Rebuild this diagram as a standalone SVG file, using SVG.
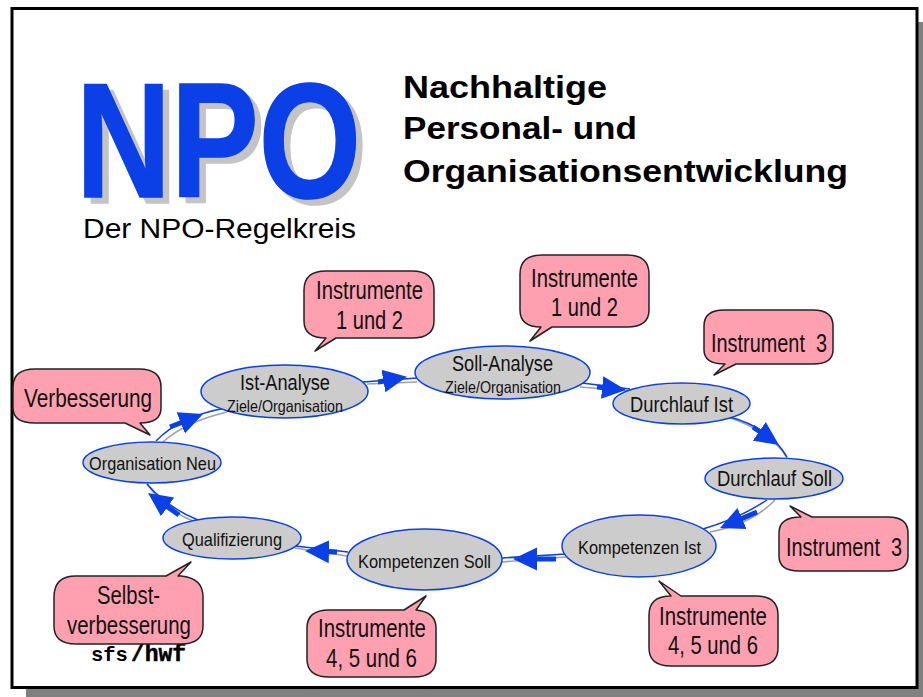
<svg xmlns="http://www.w3.org/2000/svg" width="923" height="697" viewBox="0 0 923 697">
<style>
text{font-family:"Liberation Sans",Arial,sans-serif;fill:#111;}
.t{font-size:26px}
.n{font-size:19px}
.m{font-size:22px}
.s{font-size:16.500px}
.h{font-size:32px;font-weight:bold;fill:#000}
.b{fill:#ffa0b0;stroke:#222;stroke-width:1.5;stroke-linejoin:round}
.e{fill:#cccccc;stroke:#0a40e6;stroke-width:1.5}
.g{fill:none;stroke:#a0a0a0;stroke-width:1.5}
.l{fill:none;stroke:#0a40e6;stroke-width:1.5}
.a{fill:none;stroke:#0a40e6;stroke-width:5;marker-end:url(#head)}
</style>
<defs>
<marker id="head" viewBox="0 0 20 20" refX="5" refY="10" markerUnits="userSpaceOnUse" markerWidth="24" markerHeight="24" orient="auto"><path d="M0 0.500L20 10L0 19.500z" fill="#0a40e6"/></marker>
</defs>
<rect x="0" y="0" width="923" height="697" fill="#fff"/>
<rect x="26" y="22" width="897" height="675" fill="#808080"/>
<rect x="12" y="8.500" width="905" height="679" fill="#fff" stroke="#000" stroke-width="3"/>
<g id="title">
<text x="82.500" y="203" font-size="163" font-weight="bold" style="fill:#c4c4c4;stroke:#c4c4c4;stroke-width:1.500" textLength="285" lengthAdjust="spacingAndGlyphs">NPO</text>
<text x="76" y="196.500" font-size="163" font-weight="bold" style="fill:#0a40e6;stroke:#0a40e6;stroke-width:1.500" textLength="285" lengthAdjust="spacingAndGlyphs">NPO</text>
<text x="83" y="238" font-size="28" style="fill:#000" textLength="273" lengthAdjust="spacingAndGlyphs">Der NPO-Regelkreis</text>
<text class="h" x="403" y="98" textLength="204" lengthAdjust="spacingAndGlyphs">Nachhaltige</text>
<text class="h" x="403" y="139" textLength="234" lengthAdjust="spacingAndGlyphs">Personal- und</text>
<text class="h" x="403" y="182" textLength="445" lengthAdjust="spacingAndGlyphs">Organisationsentwicklung</text>
<text x="91" y="661" style="font-family:'Liberation Mono',monospace;font-weight:bold;fill:#000" font-size="20.500">sfs<tspan dx="3" font-size="23" stroke="#000" stroke-width="0.500">/hwf</tspan></text>
</g>
<g id="connectors">
<path class="g" d="M163 442Q185 422 227 412"/><path class="l" d="M156 441Q180 416 226 408"/><path class="a" d="M170 427L186.300 420.600"/>
<path class="g" d="M367 384L417 382"/><path class="l" d="M363 382L417 378"/><path class="a" d="M378 382L389.300 380"/>
<path class="g" d="M580 387L630 391"/><path class="l" d="M582 383L630 389"/><path class="a" d="M597 387L608.100 388.100"/>
<path class="g" d="M730 418Q772 432 787 458"/><path class="l" d="M730 417Q770 428 787 457"/><path class="a" d="M753 427L764.200 434.800"/>
<path class="g" d="M775 500Q752 524 710 532"/><path class="l" d="M767 500Q740 518 703 529"/><path class="a" d="M757 512L736.500 520.900"/>
<path class="g" d="M566 557L502 562"/><path class="l" d="M566 554L502 558"/><path class="a" d="M556 559L531 559"/>
<path class="g" d="M347 556L295 548"/><path class="l" d="M348 552L295 546"/><path class="a" d="M337 552L323 551.600"/>
<path class="g" d="M193 521Q165 510 147 484"/><path class="l" d="M198 520Q168 508 147 484"/><path class="a" d="M179 515L162.700 503.400"/>
</g>
<g id="node-ist-analyse"><ellipse class="e" cx="284.500" cy="391.500" rx="83.500" ry="26.500"/><text class="m" x="240" y="390" textLength="90" lengthAdjust="spacingAndGlyphs">Ist-Analyse</text><text class="s" x="227" y="412" textLength="116" lengthAdjust="spacingAndGlyphs">Ziele/Organisation</text></g>
<g id="node-soll-analyse"><ellipse class="e" cx="502.500" cy="372.500" rx="87.500" ry="26.500"/><text class="m" x="452" y="371" textLength="101" lengthAdjust="spacingAndGlyphs">Soll-Analyse</text><text class="s" x="445" y="393" textLength="116" lengthAdjust="spacingAndGlyphs">Ziele/Organisation</text></g>
<g id="node-durchlauf-ist"><ellipse class="e" cx="681.500" cy="403.500" rx="68.500" ry="20.500"/><text class="m" x="630" y="412" textLength="103" lengthAdjust="spacingAndGlyphs">Durchlauf Ist</text></g>
<g id="node-durchlauf-soll"><ellipse class="e" cx="774" cy="478.500" rx="69" ry="20.500"/><text class="m" x="717" y="486" textLength="115" lengthAdjust="spacingAndGlyphs">Durchlauf Soll</text></g>
<g id="node-kompetenzen-ist"><ellipse class="e" cx="639" cy="546" rx="77" ry="31"/><text class="n" x="578" y="554" textLength="123" lengthAdjust="spacingAndGlyphs">Kompetenzen Ist</text></g>
<g id="node-kompetenzen-soll"><ellipse class="e" cx="424.500" cy="559.500" rx="77.500" ry="30.500"/><text class="n" x="358" y="568" textLength="133" lengthAdjust="spacingAndGlyphs">Kompetenzen Soll</text></g>
<g id="node-qualifizierung"><ellipse class="e" cx="232" cy="538" rx="69" ry="21"/><text class="n" x="182" y="546" textLength="100" lengthAdjust="spacingAndGlyphs">Qualifizierung</text></g>
<g id="node-organisation-neu"><ellipse class="e" cx="152" cy="462.500" rx="69" ry="20.500"/><text class="n" x="89" y="470" textLength="127" lengthAdjust="spacingAndGlyphs">Organisation Neu</text></g>
<g id="note-verbesserung"><path class="b" d="M35 369H139Q161 369 161 387V408Q161 423 140 423L150 435L125 423H35Q13 423 13 408V387Q13 369 35 369Z"/><text class="t" x="24" y="407" textLength="128" lengthAdjust="spacingAndGlyphs">Verbesserung</text></g>
<g id="note-selbst"><path class="b" d="M76 576H166L191 562L178 576H181Q203 578 203 597V626Q203 644 181 644H76Q54 644 54 626V597Q54 576 76 576Z"/><text class="t" x="97" y="604" textLength="63" lengthAdjust="spacingAndGlyphs">Selbst-</text><text class="t" x="67" y="634" textLength="124" lengthAdjust="spacingAndGlyphs">verbesserung</text></g>
<g id="note-ist-1"><path class="b" d="M326 271H412Q434 271 434 290V321Q434 338 412 338H336L315 351L326 338Q304 338 304 321V290Q304 271 326 271Z"/><text class="t" x="316" y="299" textLength="107" lengthAdjust="spacingAndGlyphs">Instrumente</text><text class="t" x="336" y="329" textLength="67" lengthAdjust="spacingAndGlyphs">1 und 2</text></g>
<g id="note-soll-1"><path class="b" d="M542 255H627Q649 255 649 274V310Q649 327 627 327H552L530 341L541 327Q520 327 520 310V274Q520 255 542 255Z"/><text class="t" x="531" y="287" textLength="107" lengthAdjust="spacingAndGlyphs">Instrumente</text><text class="t" x="551" y="316" textLength="67" lengthAdjust="spacingAndGlyphs">1 und 2</text></g>
<g id="note-durchlauf-ist"><path class="b" d="M724 310H813Q833 310 833 326V350Q833 364 813 364H736L714 375L725 364Q704 364 704 350V326Q704 310 724 310Z"/><text class="t" x="711" y="352" textLength="116" lengthAdjust="spacingAndGlyphs" xml:space="preserve">Instrument  3</text></g>
<g id="note-durchlauf-soll"><path class="b" d="M801 517L790 506L812 517H888Q908 517 908 533V556Q908 571 888 571H799Q779 571 779 556V533Q779 517 801 517Z"/><text class="t" x="786" y="556" textLength="116" lengthAdjust="spacingAndGlyphs" xml:space="preserve">Instrument  3</text></g>
<g id="note-kompetenzen-ist"><path class="b" d="M671 596L659 581L681 596H756Q778 596 778 615V648Q778 666 756 666H671Q649 666 649 648V615Q649 596 671 596Z"/><text class="t" x="659" y="625" textLength="108" lengthAdjust="spacingAndGlyphs">Instrumente</text><text class="t" x="668" y="654" textLength="90" lengthAdjust="spacingAndGlyphs">4, 5 und 6</text></g>
<g id="note-kompetenzen-soll"><path class="b" d="M329 610H404L426 596L416 610Q436 612 436 628V659Q436 677 414 677H329Q307 677 307 659V628Q307 610 329 610Z"/><text class="t" x="318" y="637" textLength="108" lengthAdjust="spacingAndGlyphs">Instrumente</text><text class="t" x="326" y="667" textLength="91" lengthAdjust="spacingAndGlyphs">4, 5 und 6</text></g>
</svg>
